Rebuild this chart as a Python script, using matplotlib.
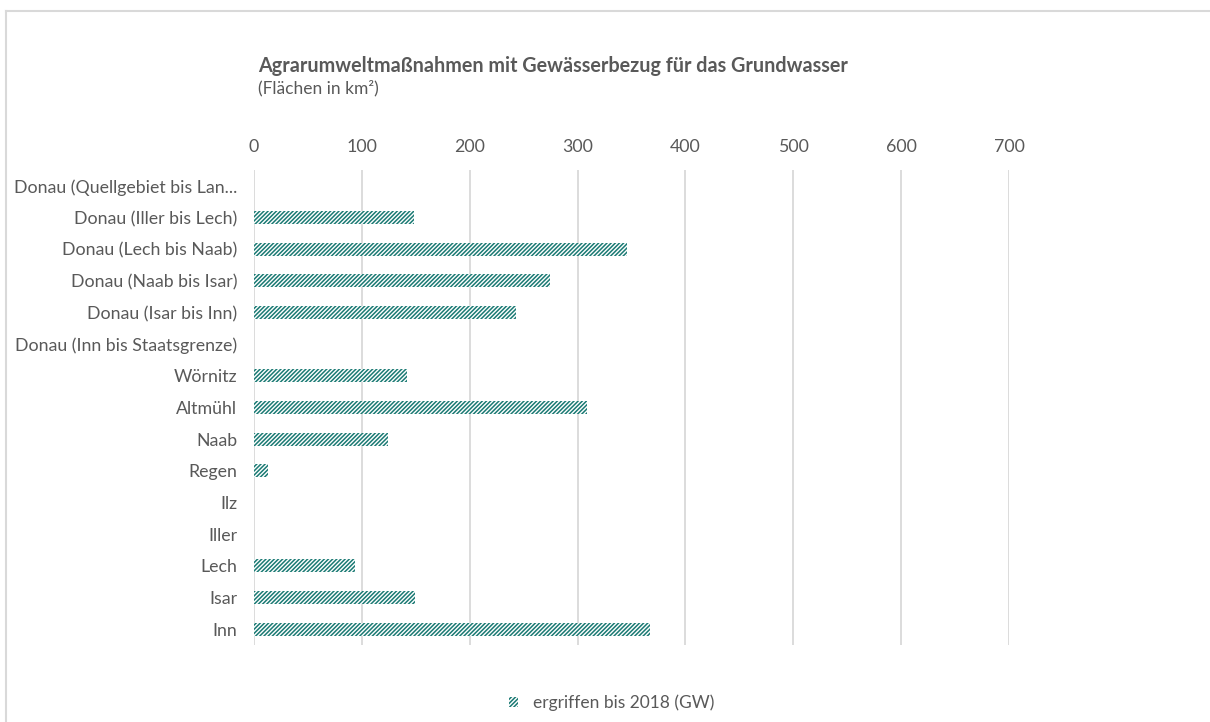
import matplotlib.pyplot as plt
from matplotlib.lines import Line2D

# Flächen in km², von oben nach unten
categories = [
    "Donau (Quellgebiet bis Lan...",
    "Donau (Iller bis Lech)",
    "Donau (Lech bis Naab)",
    "Donau (Naab bis Isar)",
    "Donau (Isar bis Inn)",
    "Donau (Inn bis Staatsgrenze)",
    "Wörnitz",
    "Altmühl",
    "Naab",
    "Regen",
    "Ilz",
    "Iller",
    "Lech",
    "Isar",
    "Inn",
]
gw_2018 = [0, 148, 346, 274, 243, 0, 142, 309, 124, 13, 0, 0, 94, 149, 367]
x_ticks = [0, 100, 200, 300, 400, 500, 600, 700]

teal = "#1b7a74"
grey_text = "#595959"
grid_grey = "#d9d9d9"

plt.rcParams["font.family"] = ["Lato", "DejaVu Sans"]
plt.rcParams["hatch.linewidth"] = 1.1

fig = plt.figure(figsize=(12.1, 7.22), dpi=100)
ax = fig.add_axes([254 / 1210, 1 - 645 / 722, 755 / 1210, 475 / 722])

y = list(range(len(categories)))
ax.barh(y, gw_2018, height=0.41, facecolor="white", edgecolor=teal,
        hatch="////////", linewidth=0, label="ergriffen bis 2018 (GW)")

ax.set_xlim(0, 700)
ax.set_ylim(len(categories) - 0.5, -0.5)
ax.set_xticks(x_ticks)
ax.set_yticks(y)
ax.set_yticklabels(categories)
ax.xaxis.tick_top()
ax.tick_params(axis="both", length=0, labelsize=12.8, colors=grey_text)
ax.tick_params(axis="x", pad=11)
ax.tick_params(axis="y", pad=12)
for s in ax.spines.values():
    s.set_visible(False)
ax.grid(axis="x", color=grid_grey, linewidth=1.3)
ax.set_axisbelow(True)

fig.text(258 / 1210, 1 - 66 / 722, "Agrarumweltmaßnahmen mit Gewässerbezug für das Grundwasser",
         fontsize=14.2, fontweight="bold", color=grey_text, va="center")
fig.text(258 / 1210, 1 - 88 / 722, "(Flächen in km²)",
         fontsize=12.5, color=grey_text, va="center")

leg = fig.legend(loc="center", bbox_to_anchor=(612 / 1210, 1 - 703 / 722), frameon=False,
                 fontsize=12.5, handlelength=0.5, handleheight=0.5, handletextpad=0.9)
for t in leg.get_texts():
    t.set_color(grey_text)

# Rahmen um den Diagrammbereich
fig.add_artist(Line2D([6 / 1210, 6 / 1210], [0, 1 - 11 / 722], transform=fig.transFigure,
                      color=grid_grey, linewidth=1.5))
fig.add_artist(Line2D([6 / 1210, 1], [1 - 11 / 722, 1 - 11 / 722], transform=fig.transFigure,
                      color=grid_grey, linewidth=1.5))

fig.savefig("out.png", dpi=100)
